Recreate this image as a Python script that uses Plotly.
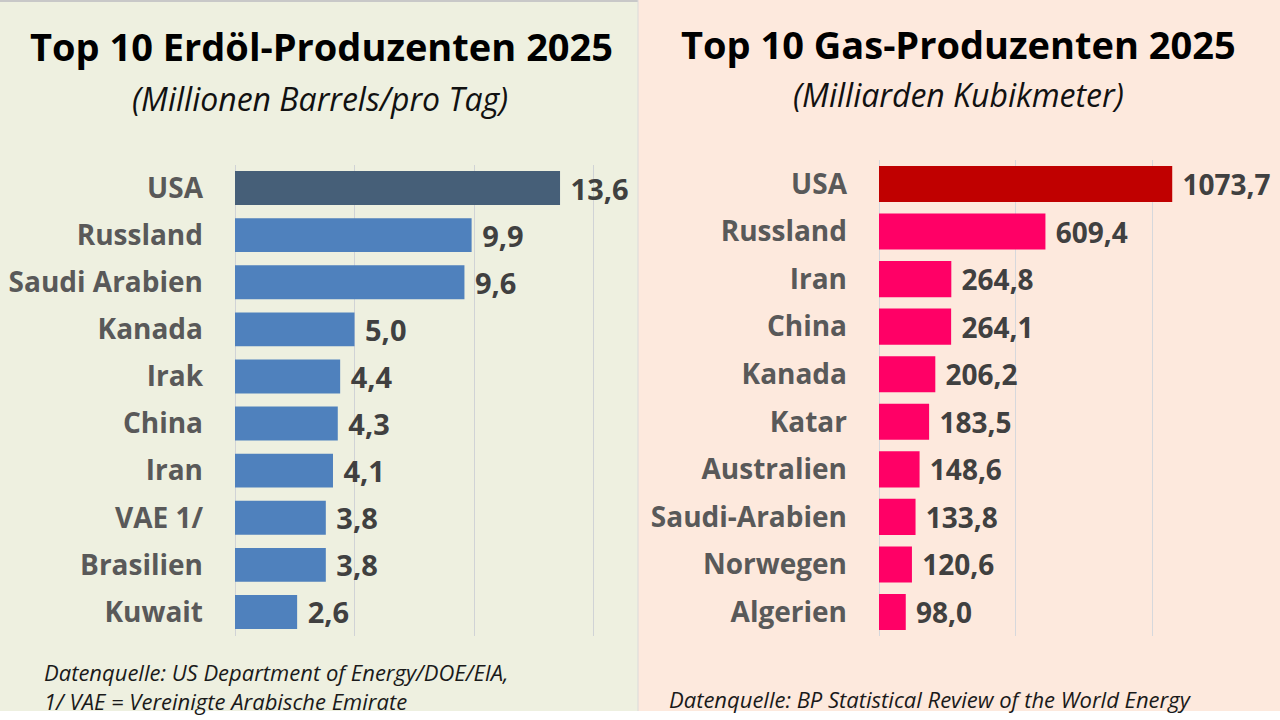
import plotly.graph_objects as go

oil_countries = ["USA", "Russland", "Saudi Arabien", "Kanada", "Irak", "China", "Iran", "VAE 1/", "Brasilien", "Kuwait"]
oil_values = [13.6, 9.9, 9.6, 5.0, 4.4, 4.3, 4.1, 3.8, 3.8, 2.6]
gas_countries = ["USA", "Russland", "Iran", "China", "Kanada", "Katar", "Australien", "Saudi-Arabien", "Norwegen", "Algerien"]
gas_values = [1073.7, 609.4, 264.8, 264.1, 206.2, 183.5, 148.6, 133.8, 120.6, 98.0]

oil_colors = ["#465F78"] + ["#4F81BD"] * 9
gas_colors = ["#C00000"] + ["#FF0066"] * 9

def fmt(v):
    return "\u00a0" + f"{v:.1f}".replace(".", ",")

W, H = 1280, 720
LBL = "Open Sans"

fig = go.Figure()
fig.add_trace(go.Bar(
    x=oil_values, y=oil_countries, orientation="h", marker=dict(color=oil_colors, line=dict(width=0)),
    text=[fmt(v) for v in oil_values], textposition="outside", cliponaxis=False, constraintext="none",
    textfont=dict(family=LBL, size=29, color="#404040", weight="bold"),
    width=0.72, xaxis="x", yaxis="y", hoverinfo="skip"))
fig.add_trace(go.Bar(
    x=gas_values, y=gas_countries, orientation="h", marker=dict(color=gas_colors, line=dict(width=0)),
    text=[fmt(v) for v in gas_values], textposition="outside", cliponaxis=False, constraintext="none",
    textfont=dict(family=LBL, size=28, color="#404040", weight="bold"),
    width=0.76, xaxis="x2", yaxis="y2", hoverinfo="skip"))

left_x0 = 235
left_ppu = 23.9
left_max = (638 - left_x0) / left_ppu
right_x0 = 879
right_ppu = 0.2731
right_max = (1280 - right_x0) / right_ppu

def ydom(top, bottom):
    return [1 - bottom / H, 1 - top / H]

fig.update_layout(
    width=W, height=H, margin=dict(l=0, r=0, t=0, b=0),
    paper_bgcolor="white", plot_bgcolor="rgba(0,0,0,0)",
    showlegend=False, bargap=0.25, uniformtext=dict(mode=False),
    xaxis=dict(domain=[left_x0 / W, 638 / W], range=[0, left_max], dtick=5, showticklabels=False,
               showgrid=True, gridcolor="#D0D3D6", gridwidth=1, zeroline=True, zerolinecolor="#D0D3D6",
               zerolinewidth=1, showline=False, fixedrange=True),
    yaxis=dict(domain=ydom(164.5, 635.5), autorange="reversed", showgrid=False, ticks="",
               tickfont=dict(family=LBL, size=28, color="#595959", weight="bold"), ticklabelstandoff=31,
               anchor="x", fixedrange=True),
    xaxis2=dict(domain=[right_x0 / W, 1.0], range=[0, right_max], dtick=500, showticklabels=False,
                showgrid=True, gridcolor="#D6D8DC", gridwidth=1, zeroline=True, zerolinecolor="#D6D8DC",
                zerolinewidth=1, showline=False, fixedrange=True, anchor="y2"),
    yaxis2=dict(domain=ydom(160.2, 635.8), autorange="reversed", showgrid=False, ticks="",
                tickfont=dict(family=LBL, size=28, color="#595959", weight="bold"), ticklabelstandoff=31,
                anchor="x2", fixedrange=True),
    shapes=[
        dict(type="rect", xref="paper", yref="paper", x0=0, x1=638 / W, y0=1 - 711 / H, y1=1,
             fillcolor="#EEF0E0", line=dict(width=0), layer="below"),
        dict(type="rect", xref="paper", yref="paper", x0=638 / W, x1=1, y0=1 - 711 / H, y1=1,
             fillcolor="#FDE9DD", line=dict(width=0), layer="below"),
        dict(type="line", xref="paper", yref="paper", x0=0, x1=638 / W, y0=1 - 1 / H, y1=1 - 1 / H,
             line=dict(color="#C8C8C8", width=2), layer="below"),
        dict(type="line", xref="paper", yref="paper", x0=638 / W, x1=638 / W, y0=1 - 711 / H, y1=1,
             line=dict(color="#DADADA", width=1), layer="below"),
    ],
)

def ann(text, x, y, size, italic=False, bold=False, anchor="center", color="black"):
    fig.add_annotation(text=text, x=x / W, y=1 - y / H, xref="paper", yref="paper",
                       xanchor=anchor, yanchor="middle", showarrow=False,
                       font=dict(family=LBL, size=size, color=color,
                                 style="italic" if italic else "normal",
                                 weight="bold" if bold else "normal"))

ann("Top 10 Erdöl-Produzenten 2025", 321, 46, 38, bold=True)
ann("(Millionen Barrels/pro Tag)", 320, 99, 32, italic=True, color="#111111")
ann("Top 10 Gas-Produzenten 2025", 958, 44, 38, bold=True)
ann("(Milliarden Kubikmeter)", 958, 95, 32, italic=True, color="#111111")
ann("Datenquelle: US Department of Energy/DOE/EIA,", 42, 672, 22, italic=True, anchor="left", color="#1a1a1a")
ann("1/ VAE = Vereinigte Arabische Emirate", 42, 701, 22, italic=True, anchor="left", color="#1a1a1a")
ann("Datenquelle: BP Statistical Review of the World Energy", 667, 699, 22, italic=True, anchor="left", color="#1a1a1a")

fig.write_html("out.html", config={"displayModeBar": False},
               post_script="document.body.style.margin='0';document.body.style.overflow='hidden';")
